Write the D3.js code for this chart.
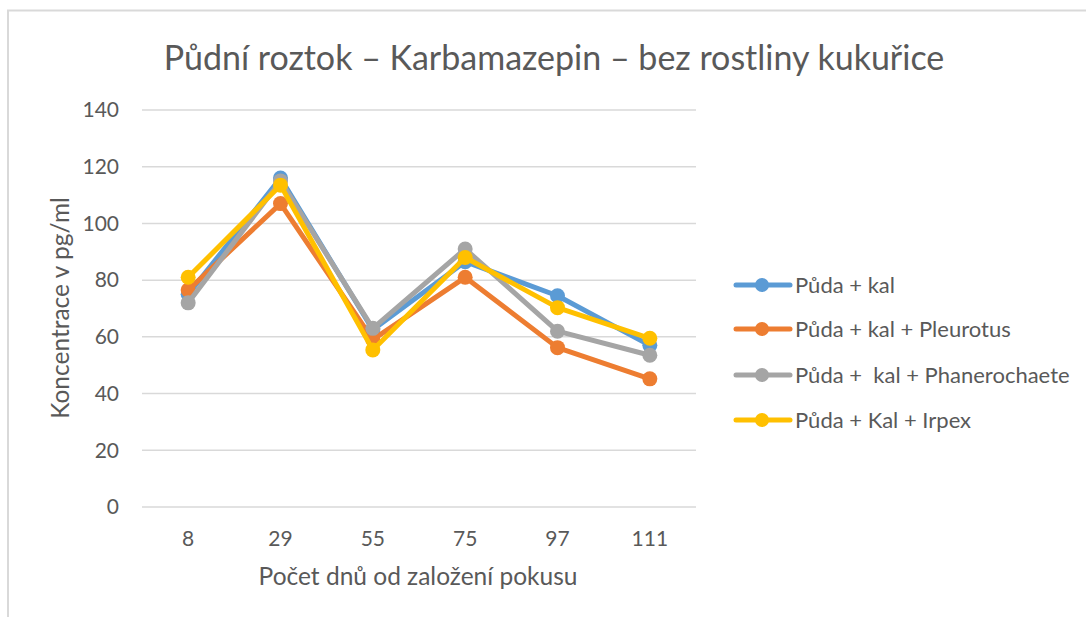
<!DOCTYPE html>
<html><head><meta charset="utf-8">
<script src="https://cdn.jsdelivr.net/npm/d3@7"></script>
<style>body{margin:0;background:#fff}svg{display:block}</style>
</head><body>
<script>
const categories = ["8","29","55","75","97","111"];
const seriesNames = ["Půda + kal","Půda + kal + Pleurotus","Půda +  kal + Phanerochaete","Půda + Kal + Irpex"];
const pudaKal = [75, 116, 62.5, 86.5, 74.5, 57];
const pleurotus = [76.5, 107, 59, 81, 56.2, 45.2];
const phanerochaete = [72, 115, 63, 91, 62, 53.5];
const irpex = [81, 113.5, 55.4, 88, 70.3, 59.5];
const colors = ["#5b9bd5","#ed7d31","#a5a5a5","#ffc000"];
const yTicks = [0,20,40,60,80,100,120,140];
const title = "Půdní roztok – Karbamazepin – bez rostliny kukuřice";
const xTitle = "Počet dnů od založení pokusu";
const yTitle = "Koncentrace v pg/ml";

const W=1086,H=617;
const font = "Lato, 'Open Sans', sans-serif";
const svg = d3.select("body").append("svg").attr("width",W).attr("height",H);
svg.append("rect").attr("x",8).attr("y",10.5).attr("width",W).attr("height",H).attr("fill","#fff").attr("stroke","#d9d9d9").attr("stroke-width",2);

const x = d3.scaleBand().domain(categories).range([142,696]);
const y = d3.scaleLinear().domain([0,140]).range([507,110]);

svg.append("g").selectAll("line").data(yTicks).join("line")
 .attr("x1",142).attr("x2",696).attr("y1",d=>y(d)).attr("y2",d=>y(d))
 .attr("stroke","#d9d9d9").attr("stroke-width",1.5);

svg.append("g").selectAll("text").data(yTicks).join("text")
 .attr("x",119).attr("y",d=>y(d)).attr("dy","0.35em").attr("text-anchor","end")
 .attr("font-family",font).attr("font-size",21).attr("fill","#595959").text(d=>d);

svg.append("g").selectAll("text").data(categories).join("text")
 .attr("x",d=>x(d)+x.bandwidth()/2).attr("y",546).attr("text-anchor","middle")
 .attr("font-family",font).attr("font-size",21).attr("fill","#595959").text(d=>d);

svg.append("text").attr("x",418).attr("y",585).attr("text-anchor","middle")
 .attr("font-family",font).attr("font-size",24.5).attr("fill","#595959").text(xTitle);

svg.append("text").attr("transform","translate(60,308) rotate(-90)").attr("text-anchor","middle").attr("dy","0.35em")
 .attr("font-family",font).attr("font-size",24.5).attr("fill","#595959").text(yTitle);

svg.append("text").attr("x",554).attr("y",70).attr("text-anchor","middle")
 .attr("font-family",font).attr("font-size",34).attr("fill","#595959").text(title);

const data = [pudaKal,pleurotus,phanerochaete,irpex];
const line = d3.line().x((d,i)=>x(categories[i])+x.bandwidth()/2).y(d=>y(d));
data.forEach((vals,k)=>{
  const g = svg.append("g");
  g.append("path").attr("d",line(vals)).attr("fill","none").attr("stroke",colors[k])
   .attr("stroke-width",5).attr("stroke-linejoin","round").attr("stroke-linecap","round");
  g.selectAll("circle").data(vals).join("circle")
   .attr("cx",(d,i)=>x(categories[i])+x.bandwidth()/2).attr("cy",d=>y(d)).attr("r",7.5)
   .attr("fill",colors[k]);
});

const legY = [285,329,375,420];
seriesNames.forEach((n,k)=>{
  const g = svg.append("g");
  g.append("line").attr("x1",736).attr("x2",790).attr("y1",legY[k]).attr("y2",legY[k])
   .attr("stroke",colors[k]).attr("stroke-width",5).attr("stroke-linecap","round");
  g.append("circle").attr("cx",762).attr("cy",legY[k]).attr("r",7).attr("fill",colors[k]);
  g.append("text").attr("x",795).attr("y",legY[k]).attr("dy","0.35em").attr("xml:space","preserve").style("white-space","pre")
   .attr("font-family",font).attr("font-size",22).attr("fill","#595959").text(n);
});
</script>
</body></html>
